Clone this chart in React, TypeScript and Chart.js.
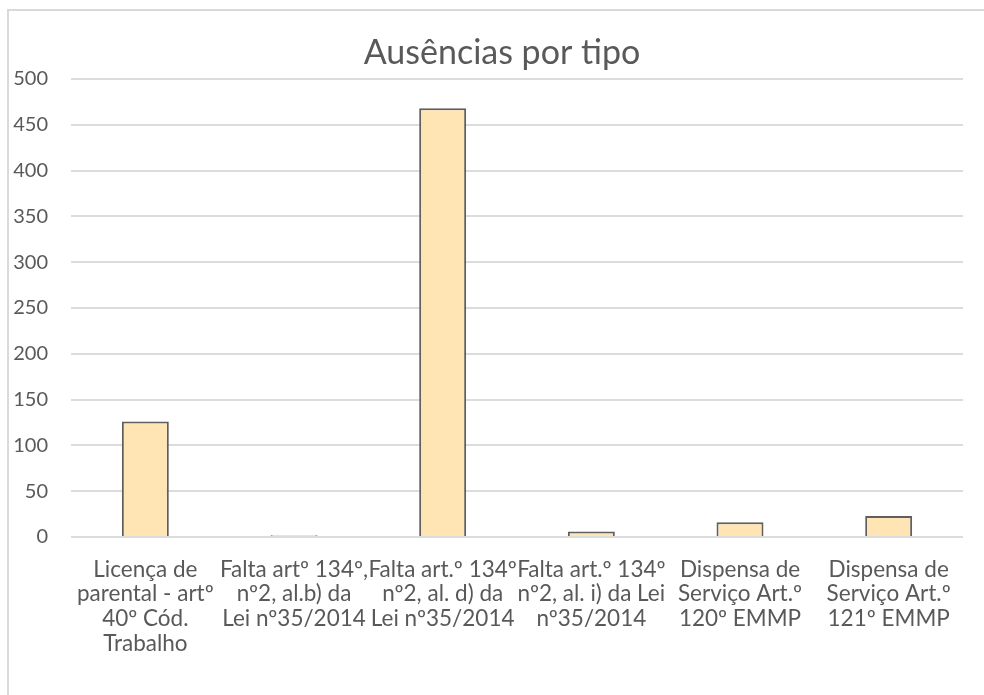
import React, { useEffect, useRef } from "react";
import { Chart, registerables } from "chart.js";

Chart.register(...registerables);

const categories: string[][] = [
  ["Licença de", "parental - artº", "40º Cód.", "Trabalho"],
  ["Falta artº 134º,", "nº2, al.b) da", "Lei nº35/2014"],
  ["Falta art.º 134º", "nº2, al. d) da", "Lei nº35/2014"],
  ["Falta art.º 134º", "nº2, al. i) da Lei", "nº35/2014"],
  ["Dispensa de", "Serviço Art.º", "120º EMMP"],
  ["Dispensa de", "Serviço Art.º", "121º EMMP"],
];
const values: number[] = [126, 2, 468, 6, 16, 23];
const yMin = 0;
const yMax = 500;
const yStep = 50;
const titleText = "Ausências por tipo";

export default function App() {
  const ref = useRef<HTMLCanvasElement | null>(null);
  useEffect(() => {
    if (!ref.current) return;
    const chart = new Chart(ref.current, {
      type: "bar",
      data: {
        labels: categories,
        datasets: [
          {
            data: values,
            backgroundColor: "#FFE5B4",
            borderColor: "#5f5f5f",
            borderWidth: 2,
            categoryPercentage: 1,
            barPercentage: 0.316,
          },
        ],
      },
      options: {
        animation: false,
        responsive: false,
        maintainAspectRatio: false,
        layout: { padding: { left: 41, right: 21, top: 0, bottom: 43 } },
        plugins: {
          legend: { display: false },
          tooltip: { enabled: false },
          title: {
            display: true,
            text: titleText,
            color: "#595959",
            font: { family: "Lato", size: 34, weight: "normal" },
            padding: { top: 32.5, bottom: 5.7 },
          },
        },
        scales: {
          x: {
            afterFit: (s: any) => {
              s.height = 115;
            },
            grid: { display: false, drawTicks: false },
            border: { display: false },
            ticks: {
              color: "#595959",
              font: { family: "Lato", size: 22.5, lineHeight: 1.1 },
              padding: 20,
              maxRotation: 0,
              autoSkip: false,
            },
          },
          y: {
            min: yMin,
            max: yMax,
            afterFit: (s: any) => {
              s.width = 30;
              s._computeLabelArea = () => undefined;
            },
            grid: { color: "#dcdcdc", lineWidth: 2, drawTicks: false },
            border: { display: false },
            ticks: {
              stepSize: yStep,
              color: "#595959",
              font: { family: "Lato", size: 20 },
              padding: 23,
            },
          },
        },
      },
    });
    return () => chart.destroy();
  }, []);
  return (
    <div style={{ position: "fixed", left: 0, top: 0, width: 984, height: 695, background: "#fff", overflow: "hidden" }}>
      <div
        style={{
          position: "absolute",
          left: 7,
          top: 9,
          width: 1000,
          height: 684,
          borderTop: "2px solid #d9d9d9",
          borderLeft: "2px solid #d9d9d9",
        }}
      />
      <canvas ref={ref} width={984} height={695} style={{ position: "absolute", left: 0, top: 0 }} />
    </div>
  );
}
